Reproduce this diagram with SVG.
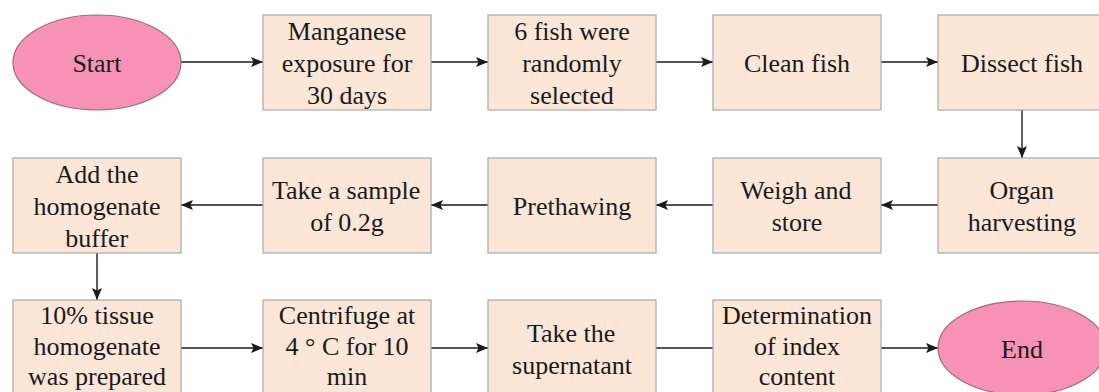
<svg xmlns="http://www.w3.org/2000/svg" width="1099" height="392" viewBox="0 0 1099 392">
<style>
.box{fill:#fbe6d8;stroke:#a8a8a8;stroke-width:1.2}
.oval{fill:#f792b6;stroke:#9c6a7c;stroke-width:1.2}
.c{stroke:#1a1a1a;stroke-width:1.4;fill:none}
</style>
<defs>
<marker id="ah" viewBox="0 0 12 10" refX="12" refY="5" markerWidth="12" markerHeight="10" markerUnits="userSpaceOnUse" orient="auto">
<path d="M0,0 L12,5 L0,10 L2.5,5 Z" fill="#1a1a1a"/>
</marker>
</defs>
<rect width="1099" height="392" fill="#ffffff"/>
<g id="connectors">
<line class="c" x1="181" y1="62" x2="263" y2="62" marker-end="url(#ah)"/>
<line class="c" x1="431" y1="62" x2="488" y2="62" marker-end="url(#ah)"/>
<line class="c" x1="656" y1="62" x2="713" y2="62" marker-end="url(#ah)"/>
<line class="c" x1="881" y1="62" x2="938" y2="62" marker-end="url(#ah)"/>
<line class="c" x1="1022" y1="110" x2="1022" y2="158" marker-end="url(#ah)"/>
<line class="c" x1="938" y1="205" x2="881" y2="205" marker-end="url(#ah)"/>
<line class="c" x1="713" y1="205" x2="656" y2="205" marker-end="url(#ah)"/>
<line class="c" x1="488" y1="205" x2="431" y2="205" marker-end="url(#ah)"/>
<line class="c" x1="263" y1="205" x2="181" y2="205" marker-end="url(#ah)"/>
<line class="c" x1="97" y1="253" x2="97" y2="300" marker-end="url(#ah)"/>
<line class="c" x1="181" y1="348" x2="263" y2="348" marker-end="url(#ah)"/>
<line class="c" x1="431" y1="348" x2="488" y2="348" marker-end="url(#ah)"/>
<line class="c" x1="656" y1="348" x2="713" y2="348"/>
<line class="c" x1="881" y1="348" x2="938" y2="348" marker-end="url(#ah)"/>
</g>
<g font-family="Liberation Serif" font-size="26" fill="#1a1a1a">
<g id="start"><ellipse class="oval" cx="97" cy="62.5" rx="84" ry="47.5"/><text font-family="Liberation Serif" x="72.4" y="72">Start</text></g>
<g id="manganese"><rect class="box" x="263" y="15" width="168" height="95"/><text font-family="Liberation Serif" x="287.8" y="40">Manganese</text><text font-family="Liberation Serif" x="281.7" y="72">exposure for</text><text font-family="Liberation Serif" x="306.9" y="104">30 days</text></g>
<g id="select"><rect class="box" x="488" y="15" width="168" height="95"/><text font-family="Liberation Serif" x="514.2" y="40">6 fish were</text><text font-family="Liberation Serif" x="522.2" y="72">randomly</text><text font-family="Liberation Serif" x="530.1" y="104">selected</text></g>
<g id="clean"><rect class="box" x="713" y="15" width="168" height="95"/><text font-family="Liberation Serif" x="743.9" y="72">Clean fish</text></g>
<g id="dissect"><rect class="box" x="938" y="15" width="168" height="95"/><text font-family="Liberation Serif" x="961" y="72">Dissect fish</text></g>
<g id="organ"><rect class="box" x="938" y="158" width="168" height="95"/><text font-family="Liberation Serif" x="989.5" y="199">Organ</text><text font-family="Liberation Serif" x="967.8" y="231">harvesting</text></g>
<g id="weigh"><rect class="box" x="713" y="158" width="168" height="95"/><text font-family="Liberation Serif" x="740.3" y="199">Weigh and</text><text font-family="Liberation Serif" x="771.7" y="231">store</text></g>
<g id="prethaw"><rect class="box" x="488" y="158" width="168" height="95"/><text font-family="Liberation Serif" x="512.8" y="215">Prethawing</text></g>
<g id="sample"><rect class="box" x="263" y="158" width="168" height="95"/><text font-family="Liberation Serif" x="271.9" y="199">Take a sample</text><text font-family="Liberation Serif" x="310.2" y="231">of 0.2g</text></g>
<g id="buffer"><rect class="box" x="13" y="158" width="168" height="95"/><text font-family="Liberation Serif" x="55.5" y="183">Add the</text><text font-family="Liberation Serif" x="33.5" y="215">homogenate</text><text font-family="Liberation Serif" x="65.2" y="247">buffer</text></g>
<g id="tissue"><rect class="box" x="13" y="300" width="168" height="98"/><text font-family="Liberation Serif" x="40.3" y="324">10% tissue</text><text font-family="Liberation Serif" x="33.5" y="355">homogenate</text><text font-family="Liberation Serif" x="28.1" y="385">was prepared</text></g>
<g id="centrifuge"><rect class="box" x="263" y="300" width="168" height="98"/><text font-family="Liberation Serif" x="278.8" y="324">Centrifuge at</text><text font-family="Liberation Serif" x="285.5" y="355">4 ° C for 10</text><text font-family="Liberation Serif" x="326.8" y="385">min</text></g>
<g id="supernatant"><rect class="box" x="488" y="300" width="168" height="98"/><text font-family="Liberation Serif" x="526.9" y="342">Take the</text><text font-family="Liberation Serif" x="512.1" y="374">supernatant</text></g>
<g id="determination"><rect class="box" x="713" y="300" width="168" height="98"/><text font-family="Liberation Serif" x="721.9" y="324">Determination</text><text font-family="Liberation Serif" x="754" y="355">of index</text><text font-family="Liberation Serif" x="758.7" y="385">content</text></g>
<g id="end"><ellipse class="oval" cx="1022" cy="348" rx="84" ry="47"/><text font-family="Liberation Serif" x="1001.1" y="358">End</text></g>
</g>
</svg>
